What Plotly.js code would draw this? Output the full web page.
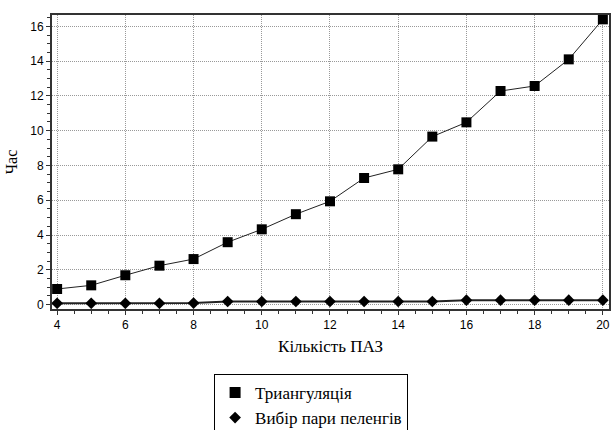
<!DOCTYPE html>
<html>
<head>
<meta charset="utf-8">
<script src="https://cdn.plot.ly/plotly-3.0.1.min.js"></script>
<style>html,body{margin:0;padding:0;background:#fff}#chart{width:611px;height:430px}</style>
</head>
<body>
<div id="chart"></div>
<script>
const pazCount = [4,5,6,7,8,9,10,11,12,13,14,15,16,17,18,19,20];
const triangulation = [0.9,1.11,1.69,2.24,2.62,3.59,4.33,5.2,5.94,7.28,7.78,9.66,10.48,12.28,12.57,14.1,16.4];
const pairSelection = [0.08,0.08,0.08,0.08,0.09,0.18,0.18,0.18,0.18,0.18,0.18,0.18,0.26,0.26,0.26,0.26,0.26];
const seriesNames = ["Триангуляція","Вибір пари пеленгів"];
const xTitle = "Кількість ПАЗ";
const yTitle = "Час";

const serif = "Liberation Serif";
const sans = "Liberation Sans";

const traces = [
  {x: pazCount, y: triangulation, mode: "lines+markers", showlegend: false,
   line: {color: "#222", width: 1}, marker: {symbol: "square", size: 10, color: "#000"}},
  {x: pazCount, y: pairSelection, mode: "lines+markers", showlegend: false,
   line: {color: "#222", width: 2}, marker: {symbol: "diamond", size: 9, color: "#000"}},
  {x: [null], y: [null], mode: "markers", name: seriesNames[0],
   marker: {symbol: "square", size: 11, color: "#000"}},
  {x: [null], y: [null], mode: "markers", name: seriesNames[1],
   marker: {symbol: "diamond", size: 9, color: "#000"}}
];

const axisCommon = {
  showline: true, linecolor: "#333", linewidth: 2, mirror: true,
  ticks: "outside", ticklen: 4, tickcolor: "#333", tickwidth: 1,
  showgrid: true, gridcolor: "#999", griddash: "1px,1px", gridwidth: 1,
  zeroline: false, tickfont: {family: sans, size: 12, color: "#000"},
  ticklabeloverflow: "allow",
  minor: {ticks: "outside", ticklen: 3, tickcolor: "#333", dtick: 0.5, showgrid: false}
};

const layout = {
  width: 611, height: 430,
  margin: {l: 52, r: 2, t: 15, b: 121, autoexpand: false},
  paper_bgcolor: "#fff", plot_bgcolor: "#fff",
  showlegend: true,
  xaxis: Object.assign({}, axisCommon, {
    range: [3.85, 20.18], dtick: 2, tick0: 0,
    title: {text: xTitle, font: {family: serif, size: 17, color: "#000"}, standoff: 9}
  }),
  yaxis: Object.assign({}, axisCommon, {
    range: [-0.25, 16.65], dtick: 2, tick0: 0,
    title: {text: yTitle, font: {family: serif, size: 16, color: "#000"}, standoff: 9}
  }),
  legend: {
    x: 0.291, xanchor: "left", y: -0.221, yanchor: "top",
    bordercolor: "#000", borderwidth: 1, bgcolor: "#fff",
    font: {family: serif, size: 17, color: "#000"},
    itemwidth: 30, tracegroupgap: 0
  }
};

Plotly.newPlot("chart", traces, layout, {displayModeBar: false, staticPlot: true});
</script>
</body>
</html>
